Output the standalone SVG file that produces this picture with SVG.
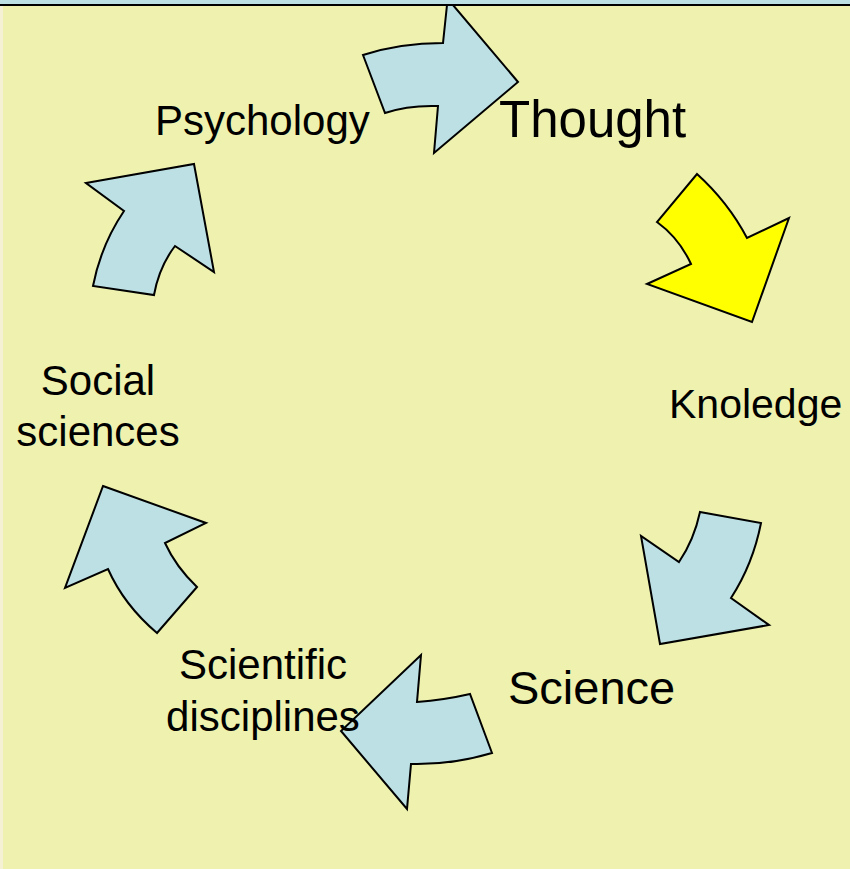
<svg xmlns="http://www.w3.org/2000/svg" width="850" height="869" viewBox="0 0 850 869">
<style>
.arr{fill:#bce0e4;stroke:#000;stroke-width:2;stroke-linejoin:miter}
.hot{fill:#ffff00}
text{font-family:"Liberation Sans",Arial,sans-serif;fill:#000}
</style>
<rect x="0" y="0" width="850" height="869" fill="#eef2ae"/>
<rect x="0" y="0" width="3" height="869" fill="#f4f1d4"/>
<rect x="0" y="0" width="850" height="5" fill="#bce0e4"/>
<g id="connectors">
<path id="a1" class="arr" d="M447,5 L443,43 Q400,43 363,55 L385,113 Q408,105 438,106 L434,153 L518,82 L453,5 Z"/>
<path id="a2" class="arr hot" d="M697,174 Q728,202 747,238 L789,218 L752,322 L647,284 L691,264 Q679,238 657,222 Z"/>
<path id="a3" class="arr" d="M700,512 L761,523 Q753,564 731,598 L769,625 L660,644 L641,536 L679,562 Q694,540 700,512 Z"/>
<path id="a4" class="arr" d="M421,655 L417,702 Q444,700 470,694 L492,753 Q452,765 411,764 L407,809 L341,731 Z"/>
<path id="a5" class="arr" d="M103,486 L206,523 L165,543 Q176,567 197,587 L157,633 Q124,605 108,569 L65,588 Z"/>
<path id="a6" class="arr" d="M86,183 L194,164 L214,272 L175,246 Q159,267 154,295 L93,286 Q101,245 124,211 Z"/>
</g>
<g id="n-psychology"><text x="155" y="135" font-size="42">Psychology</text></g>
<g id="n-thought"><text x="499" y="137" font-size="51">Thought</text></g>
<g id="n-knoledge"><text x="669" y="418" font-size="41">Knoledge</text></g>
<g id="n-science"><text x="508" y="704" font-size="47">Science</text></g>
<g id="n-disciplines"><text x="263" y="679" font-size="42" text-anchor="middle">Scientific</text><text x="263" y="731" font-size="42" text-anchor="middle">disciplines</text></g>
<g id="n-social"><text x="98" y="395" font-size="42" text-anchor="middle">Social</text><text x="98" y="446" font-size="42" text-anchor="middle">sciences</text></g>
<line x1="0" y1="5" x2="850" y2="5" stroke="#000" stroke-width="2"/>
</svg>
